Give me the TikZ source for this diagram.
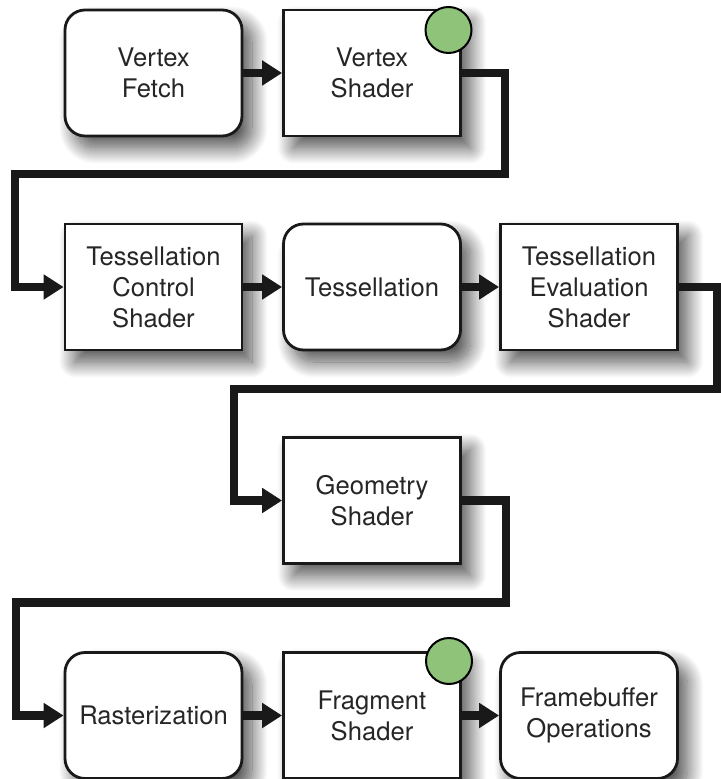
\documentclass[tikz,border=0pt]{standalone}
\usepackage{fontspec}
\setmainfont{TeX Gyre Heros}
\usetikzlibrary{arrows.meta,shadows.blur}
\definecolor{dotgreen}{RGB}{143,195,122}

\begin{document}
\begin{tikzpicture}[
  x=0.5pt,y=-0.5pt,
  squareblock/.style={
    rectangle,
    draw=black!90,
    line width=1.4pt,
    fill=white,
    blur shadow={shadow xshift=5pt,shadow yshift=-6pt,
                 shadow blur radius=8pt,shadow blur steps=25,
                 shadow opacity=70},
    inner sep=0pt,
    minimum width=88.5pt,
    minimum height=63pt,
    align=center,
    text=black!85,
    font=\fontsize{12.8}{15.5}\selectfont
  },
  roundblock/.style={
    squareblock,
    rounded corners=10pt
  },
  stagedot/.style={
    circle,
    draw=black,
    line width=1pt,
    fill=dotgreen,
    inner sep=0pt,
    minimum size=23pt
  },
  pipe/.style={
    line width=4.25pt,
    draw=black!90,
    -{Triangle[length=10pt,width=12pt]}
  }]
  \useasboundingbox (0,0) rectangle (720,779);

  % row 1
  \draw (153.5,73) node[roundblock] (vfetch) {Vertex\\Fetch};
  \draw (372,73) node[squareblock] (vshader) {Vertex\\Shader};
  % row 2
  \draw (153.5,287) node[squareblock] (tcs) {Tessellation\\Control\\Shader};
  \draw (372,287) node[roundblock] (tess) {Tessellation};
  \draw (589,287) node[squareblock] (tes) {Tessellation\\Evaluation\\Shader};
  % row 3
  \draw (372,500.5) node[squareblock] (gshader) {Geometry\\Shader};
  % row 4
  \draw (153.5,715.5) node[roundblock] (raster) {Rasterization};
  \draw (372,715.5) node[squareblock] (fshader) {Fragment\\Shader};
  \draw (589,715.5) node[roundblock] (fbops) {Framebuffer\\Operations};

  % programmable stages
  \node (vsdot) [stagedot] at (448.5,30) {};
  \node (fsdot) [stagedot] at (449,661) {};

  % connectors
  \draw[pipe] (vfetch) -- (vshader);
  \draw[pipe] (vshader.east) -- ++(43,0) -- ++(0,101) -- ++(-490,0) |- (tcs.west);
  \draw[pipe] (tcs) -- (tess);
  \draw[pipe] (tess) -- (tes);
  \draw[pipe] (tes.east) -- ++(38,0) -- ++(0,102) -- ++(-483,0) |- (gshader.west);
  \draw[pipe] (gshader.east) -- ++(44,0) -- ++(0,102) -- ++(-490,0) |- (raster.west);
  \draw[pipe] (raster) -- (fshader);
  \draw[pipe] (fshader) -- (fbops);

\end{tikzpicture}
\end{document}
